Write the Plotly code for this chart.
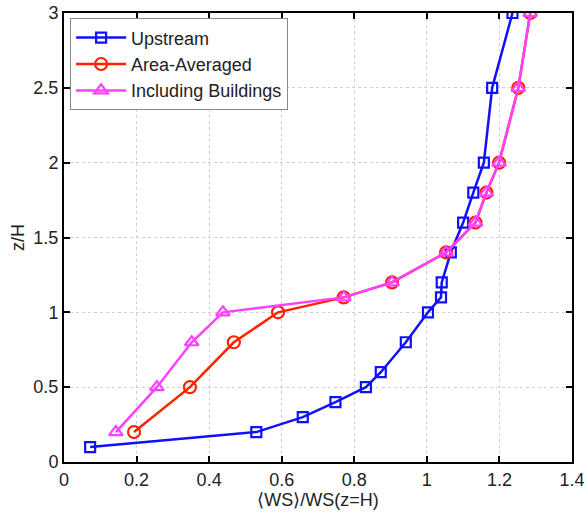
import plotly.graph_objects as go

z_up = [0.1, 0.2, 0.3, 0.4, 0.5, 0.6, 0.8, 1.0, 1.1, 1.2, 1.4, 1.6, 1.8, 2.0, 2.5, 3.0]
ws_up = [0.072, 0.530, 0.658, 0.748, 0.832, 0.873, 0.942, 1.003, 1.039, 1.041, 1.066, 1.100, 1.128, 1.157, 1.180, 1.236]

z_avg = [0.2, 0.5, 0.8, 1.0, 1.1, 1.2, 1.4, 1.6, 1.8, 2.0, 2.5, 3.0]
ws_avg = [0.193, 0.347, 0.468, 0.590, 0.771, 0.904, 1.053, 1.134, 1.164, 1.199, 1.252, 1.285]

z_bld = [0.2, 0.5, 0.8, 1.0, 1.1, 1.2, 1.4, 1.6, 1.8, 2.0, 2.5, 3.0]
ws_bld = [0.143, 0.256, 0.352, 0.438, 0.771, 0.904, 1.053, 1.134, 1.164, 1.199, 1.252, 1.285]

x_ticks = [0, 0.2, 0.4, 0.6, 0.8, 1.0, 1.2, 1.4]
x_tick_labels = ["0", "0.2", "0.4", "0.6", "0.8", "1", "1.2", "1.4"]
y_ticks = [0, 0.5, 1.0, 1.5, 2.0, 2.5, 3.0]
y_tick_labels = ["0", "0.5", "1", "1.5", "2", "2.5", "3"]

fig = go.Figure()
fig.add_trace(go.Scatter(x=ws_up, y=z_up, name="Upstream", mode="lines+markers",
                         line=dict(color="#1010ff", width=2.5),
                         marker=dict(symbol="square-open", size=10, line=dict(width=2.2, color="#1010ff"))))
fig.add_trace(go.Scatter(x=ws_avg, y=z_avg, name="Area-Averaged", mode="lines+markers",
                         line=dict(color="#ff2200", width=2.5),
                         marker=dict(symbol="circle-open", size=12, line=dict(width=2.2, color="#ff2200"))))
fig.add_trace(go.Scatter(x=ws_bld, y=z_bld, name="Including Buildings", mode="lines+markers",
                         line=dict(color="#ff40ff", width=2.5),
                         marker=dict(symbol="triangle-up-open", size=12, line=dict(width=2.2, color="#ff40ff"))))

axis_common = dict(showline=True, linecolor="black", linewidth=2, mirror="ticks",
                   ticks="inside", ticklen=6, tickcolor="black", tickwidth=1.5,
                   showgrid=True, gridcolor="#d0d0d0", griddash="dot", gridwidth=1,
                   zeroline=False, automargin=False, tickfont=dict(size=18, color="#222"))

fig.update_xaxes(range=[0, 1.4], tickvals=x_ticks, ticktext=x_tick_labels,
                 title=dict(text="⟨WS⟩/WS(z=H)", font=dict(size=18, color="#222"), standoff=2),
                 **axis_common)
fig.update_yaxes(range=[0, 3], tickvals=y_ticks, ticktext=y_tick_labels,
                 title=dict(text="z/H", font=dict(size=18, color="#222"), standoff=4),
                 **axis_common)

fig.update_layout(
    width=586, height=516,
    margin=dict(l=64, r=14, t=13, b=54),
    paper_bgcolor="white", plot_bgcolor="white",
    font=dict(family="Liberation Sans, Arial, sans-serif", color="#222"),
    showlegend=True,
    legend=dict(x=0.012, y=0.988, xanchor="left", yanchor="top",
                bgcolor="white", bordercolor="#888", borderwidth=1,
                font=dict(size=18, color="#222"), tracegroupgap=0,
                itemwidth=50),
)

fig.write_html("out.html", config={"displayModeBar": False},
               post_script="document.body.style.margin='0';document.body.style.overflow='hidden';")
